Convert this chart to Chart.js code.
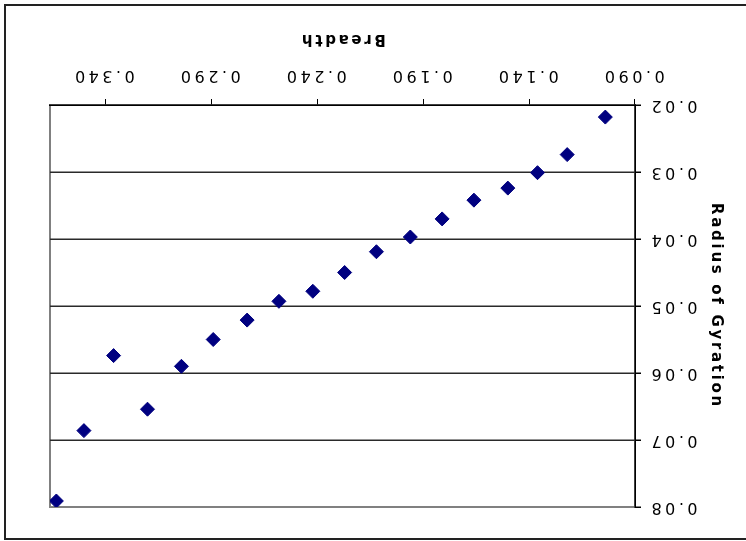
<!DOCTYPE html>
<html>
<head>
<meta charset="utf-8">
<script src="https://cdn.jsdelivr.net/npm/chart.js@4"></script>
<style>
    html, body { margin: 0; padding: 0; background: #fff; }
    #wrap { width: 746px; height: 541px; transform: rotate(180deg); }
    canvas { display: block; }
</style>
</head>
<body>
<div id="wrap"><canvas id="chart" width="746" height="541"></canvas></div>
<script>
// breadth vs radius of gyration, one point per specimen
const breadth = [0.104, 0.122, 0.136, 0.150, 0.166, 0.181, 0.196, 0.212, 0.227,
                 0.242, 0.258, 0.273, 0.289, 0.304, 0.320, 0.336, 0.350, 0.363];
const radius = [0.0218, 0.0274, 0.0301, 0.0324, 0.0342, 0.0370, 0.0397, 0.0419, 0.0450,
                0.0478, 0.0493, 0.0521, 0.0550, 0.0590, 0.0654, 0.0574, 0.0686, 0.0791];

const xTicks = [0.090, 0.140, 0.190, 0.240, 0.290, 0.340];
const yTicks = [0.02, 0.03, 0.04, 0.05, 0.06, 0.07, 0.08];

const xTitle = 'Breadth';
const yTitle = 'Radius of Gyration';

Chart.defaults.font.family = "'DejaVu Sans', Verdana, sans-serif";
Chart.defaults.color = '#000';

// outer frame, gray plot border and the wide letter spacing of the labels
const frame = {
    id: 'frame',
    beforeDraw(chart) {
        const {ctx, chartArea} = chart;
        ctx.save();
        ctx.fillStyle = '#fff';
        ctx.fillRect(0, 0, chart.width, chart.height);
        ctx.strokeStyle = '#222';
        ctx.lineWidth = 2;
        ctx.strokeRect(-5, 2, 746, 534);
        ctx.strokeStyle = '#808080';
        ctx.lineWidth = 2;
        ctx.strokeRect(chartArea.left, chartArea.top, chartArea.right - chartArea.left, chartArea.bottom - chartArea.top);
        ctx.restore();
        ctx.letterSpacing = '2.7px';
    },
    afterDatasetsDraw(chart) {
        chart.ctx.letterSpacing = '3.5px';
    },
    afterDraw(chart) {
        chart.ctx.letterSpacing = '0px';
    }
};

new Chart(document.getElementById('chart'), {
    type: 'scatter',
    data: {
        datasets: [{
            data: breadth.map((b, i) => ({x: b, y: radius[i]})),
            pointStyle: 'rectRot',
            pointRadius: 7,
            backgroundColor: '#000080',
            borderColor: '#000080',
            borderWidth: 1
        }]
    },
    options: {
        responsive: false,
        animation: false,
        layout: {padding: {left: 0, right: 50, top: 34, bottom: 0}},
        plugins: {legend: {display: false}, tooltip: {enabled: false}},
        scales: {
            x: {
                type: 'linear',
                min: 0.09,
                max: 0.366,
                afterBuildTicks: scale => { scale.ticks = xTicks.map(v => ({value: v})); },
                afterFit: scale => { scale.height = 105; },
                grid: {drawOnChartArea: false, tickLength: 6, color: '#000'},
                border: {color: '#000', width: 1.5},
                ticks: {
                    z: 1,
                    padding: 14,
                    labelOffset: 2,
                    maxRotation: 0,
                    font: {size: 16},
                    callback: v => v.toFixed(3)
                },
                title: {
                    display: true,
                    text: xTitle,
                    font: {size: 15, weight: 'bold'},
                    padding: {top: 0, bottom: 30}
                }
            },
            y: {
                min: 0.02,
                max: 0.08,
                afterBuildTicks: scale => { scale.ticks = yTicks.map(v => ({value: v})); },
                afterFit: scale => { scale.width = 111; },
                grid: {
                    tickLength: 6,
                    lineWidth: 1.5,
                    tickColor: '#000',
                    color: c => (c.tick && (c.tick.value <= 0.02 || c.tick.value >= 0.08)) ? 'rgba(0,0,0,0)' : '#2a2a2a'
                },
                border: {color: '#000', width: 1.5},
                ticks: {
                    z: 1,
                    padding: 7,
                    font: {size: 16},
                    callback: v => v.toFixed(2)
                },
                title: {
                    display: true,
                    text: yTitle,
                    font: {size: 15, weight: 'bold'},
                    padding: {top: 21, bottom: 0}
                }
            }
        }
    },
    plugins: [frame]
});
</script>
</body>
</html>
